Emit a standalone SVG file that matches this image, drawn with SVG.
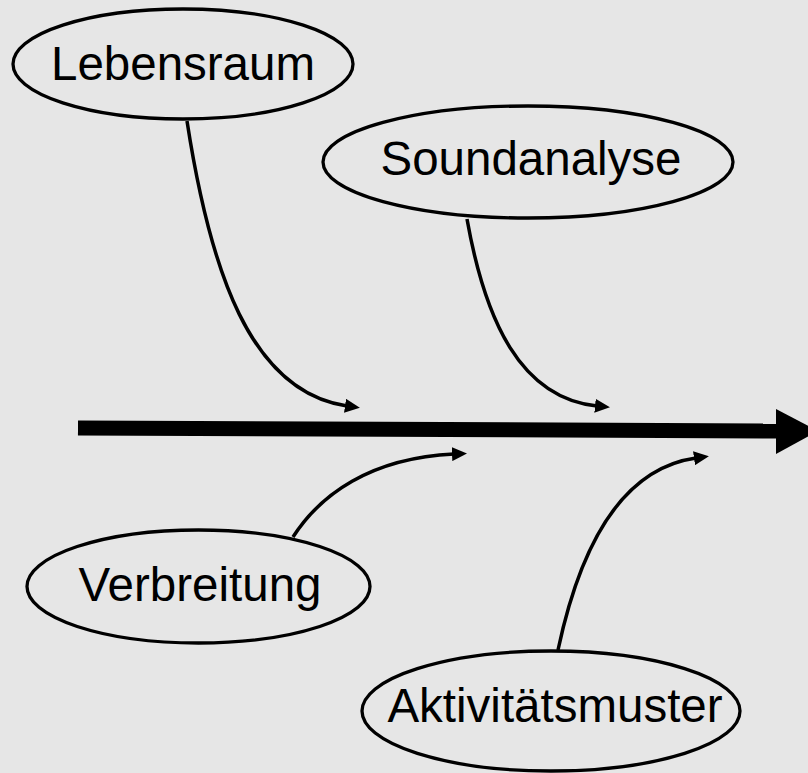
<svg xmlns="http://www.w3.org/2000/svg" width="808" height="773" viewBox="0 0 808 773">
<style>
.node ellipse{fill:#e6e6e6;stroke:#000;stroke-width:3.3}
.node text{font-family:"Liberation Sans",Arial,sans-serif;font-size:47.5px;fill:#000;text-anchor:middle}
.conn{fill:none;stroke:#000;stroke-width:3.5;marker-end:url(#ah)}
</style>
<defs>
<marker id="ah" viewBox="0 0 15 14" refX="2" refY="7" markerWidth="15" markerHeight="14" markerUnits="userSpaceOnUse" orient="auto">
<path d="M0,0 L15,7 L0,14 Z" fill="#000"/>
</marker>
</defs>
<rect x="0" y="0" width="808" height="773" fill="#e6e6e6"/>
<g id="connectors">
<path id="main-axis" d="M78,428 L777,431" fill="none" stroke="#000" stroke-width="15"/>
<polygon points="776,409 818,431 776,454" fill="#000"/>
<path class="conn" d="M187,121 C210,270 250,392 347,406"/>
<path class="conn" d="M467,219 C485,320 520,398 597,406"/>
<path class="conn" d="M293,537 C320,495 370,458 454,454"/>
<path class="conn" d="M558,650 C575,570 610,470 696,458"/>
</g>
<g id="lebensraum" class="node">
<ellipse cx="183" cy="64" rx="170" ry="55"/>
<text x="183" y="80">Lebensraum</text>
</g>
<g id="soundanalyse" class="node">
<ellipse cx="528" cy="162" rx="205" ry="56"/>
<text x="531" y="175">Soundanalyse</text>
</g>
<g id="verbreitung" class="node">
<ellipse cx="198.5" cy="586.5" rx="171.5" ry="56.5"/>
<text x="200" y="601">Verbreitung</text>
</g>
<g id="aktivitaetsmuster" class="node">
<ellipse cx="551" cy="711" rx="189" ry="60"/>
<text x="555" y="722">Aktivitätsmuster</text>
</g>
</svg>
